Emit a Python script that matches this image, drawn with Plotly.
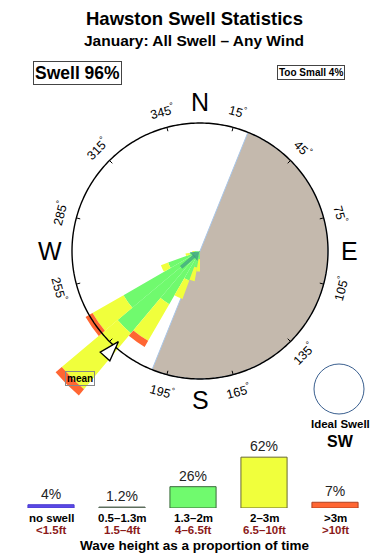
import math
import plotly.graph_objects as go

W, H = 390, 560
FONT = "Liberation Sans, Arial, Helvetica, sans-serif"

# ---------------- data ----------------
directions = [185, 195, 205, 215, 225, 235, 245, 255, 265]      # deg, bin centres
swell_05_13 = [0.1, 0.1, 0.2, 0.2, 0.2, 0.2, 0.1, 0.1, 0.1]       # 0.5-1.3 m
swell_13_2 = [1.2, 2.5, 4.7, 9.4, 16.6, 13.6, 5.2, 1.6, 0.8]      # 1.3-2 m
swell_2_3 = [1.9, 2.2, 3.1, 6.6, 11.4, 5.6, 1.2, 0.6, 0.3]        # 2-3 m
swell_gt3 = [0, 0, 0, 1.1, 1.25, 1.25, 0, 0, 0]                   # >3 m

land_from, land_to = 22, 202        # land sector (deg)
mean_dir = 222                       # mean swell direction
wind_dir = 229

tick_angles = [15, 45, 75, 105, 135, 165, 195, 225, 255, 285, 315, 345]
tick_labels_shown = [15, 45, 75, 105, 135, 165, 195, 255, 285, 315, 345]
compass = [("N", 0), ("E", 90), ("S", 180), ("W", 270)]

legend_labels = ["no swell", "0.5–1.3m", "1.3–2m", "2–3m", "&gt;3m"]
legend_ft = ["&lt;1.5ft", "1.5–4ft", "4–6.5ft", "6.5–10ft", "&gt;10ft"]
legend_pct = [4, 1.2, 26, 62, 7]

swell_pct = 96
too_small_pct = 4
ideal_swell = "SW"

# ---------------- geometry / styles ----------------
CX, CY = 200, 251
R_CIRCLE_PX = 128
R_DOM_PX = 190
CIRCLE_VAL = 20.0
PXU = R_CIRCLE_PX / CIRCLE_VAL

C_GREEN = "#70fa6e"
C_YELLOW = "#f0ff3c"
C_RED = "#ff6633"
C_SMALL = "#6b7b6b"
C_BLUE = "#5a4ae6"
C_LAND = "#c4b9ad"
C_DARKRED = "#8b1a1a"

LEG_X0, LEG_DX = 51, 71          # legend column centres (px)


def pol(b, rpx):
    a = math.radians(b)
    return CX + rpx * math.sin(a), CY - rpx * math.cos(a)


def ann(px, py, text, size, color="#000", angle=0, **kw):
    d = dict(x=px / W, y=1 - py / H, xref="paper", yref="paper", text=text,
             showarrow=False, font=dict(size=size, color=color, family=FONT),
             textangle=angle, xanchor="center", yanchor="middle")
    d.update(kw)
    return d


fig = go.Figure()

# land
fig.add_trace(go.Barpolar(r=[CIRCLE_VAL], theta=[(land_from + land_to) / 2],
                          width=[land_to - land_from], marker_color=C_LAND,
                          marker_line=dict(color="#a9c6e8", width=1),
                          hoverinfo="skip"))
# swell bars
for vals, col in [(swell_05_13, C_SMALL), (swell_13_2, C_GREEN),
                  (swell_2_3, C_YELLOW), (swell_gt3, C_RED)]:
    fig.add_trace(go.Barpolar(r=vals, theta=directions, width=[10] * len(directions),
                              marker_color=col, marker_line_width=0,
                              hoverinfo="skip"))

# compass circle
th = list(range(0, 361, 1))
fig.add_trace(go.Scatterpolar(r=[CIRCLE_VAL] * len(th), theta=th, mode="lines",
                              line=dict(color="black", width=1.4), hoverinfo="skip"))
# tick marks
tr, tt = [], []
for a in tick_angles:
    tr += [CIRCLE_VAL, CIRCLE_VAL - 4 / PXU, None]
    tt += [a, a, None]
fig.add_trace(go.Scatterpolar(r=tr, theta=tt, mode="lines",
                              line=dict(color="black", width=1), hoverinfo="skip"))

# wind arrow near centre
fig.add_trace(go.Scatterpolar(r=[25 / PXU, 7 / PXU], theta=[wind_dir, wind_dir], mode="lines",
                              line=dict(color="rgba(60,160,130,0.75)", width=3.5),
                              hoverinfo="skip"))
fig.add_trace(go.Scatterpolar(r=[6 / PXU], theta=[wind_dir], mode="markers",
                              marker=dict(symbol="triangle-up", size=10, angle=wind_dir - 180,
                                          color="rgba(60,160,130,0.8)", line_width=0),
                              hoverinfo="skip"))
# mean direction arrow
fig.add_trace(go.Scatterpolar(r=[122 / PXU], theta=[mean_dir], mode="markers",
                              marker=dict(symbol="arrow", size=21, angle=mean_dir - 180,
                                          color="white", line=dict(color="black", width=1.3)),
                              hoverinfo="skip"))

# legend bar chart
leg_colors = [C_BLUE, C_SMALL, C_GREEN, C_YELLOW, C_RED]
leg_lines = ["#4a3ad0", "#5a6a5a", "#3a6a3a", "#6a6a30", "#b04020"]
fig.add_trace(go.Bar(x=list(range(5)), y=legend_pct, width=0.65,
                     marker=dict(color=leg_colors, line=dict(color=leg_lines, width=1)),
                     text=[f"{v:g}%" for v in legend_pct], textposition="outside",
                     textfont=dict(size=14, color="#222", family=FONT),
                     cliponaxis=False, xaxis="x", yaxis="y", hoverinfo="skip"))

annotations = [
    ann(194, 18.5, "<b>Hawston Swell Statistics</b>", 18.5),
    ann(194, 40.5, "<b>January: All Swell – Any Wind</b>", 15.5),
    ann(77.5, 73.5, f"<b>Swell {swell_pct}%</b>", 17.5, bordercolor="#444",
        borderwidth=1, borderpad=1),
    ann(311, 73, f"<b>Too Small {too_small_pct}%</b>", 10, bordercolor="#444",
        borderwidth=1, borderpad=1),
    ann(340, 424, "<b>Ideal Swell</b>", 11.5),
    ann(340, 441, f"<b>{ideal_swell}</b>", 16),
    ann(195, 545, "<b>Wave height as a proportion of time</b>", 13.5),
]
for i, (lab, ft) in enumerate(zip(legend_labels, legend_ft)):
    xc = LEG_X0 + i * LEG_DX
    annotations.append(ann(xc, 517.5, f"<b>{lab}</b>", 11.5))
    annotations.append(ann(xc, 529.5, f"<b>{ft}</b>", 11.5, color=C_DARKRED))
for name, b in compass:
    x, y = pol(b, 150 if name == "W" else 149)
    annotations.append(ann(x, y, name, 25))
for a in tick_labels_shown:
    x, y = pol(a, 145)
    ang = a if a < 90 else (a - 180 if a < 270 else a - 360)
    annotations.append(ann(x, y, f"{a}<sup>°</sup>", 12.5, angle=ang))
mx, my = pol(223.4, 175)
annotations.append(ann(mx, my, "<b>mean</b>", 10, bordercolor="#888", borderwidth=1,
                       borderpad=1))

shapes = [dict(type="circle", xref="paper", yref="paper",
               x0=(339 - 25) / W, x1=(339 + 25) / W,
               y0=1 - (389 + 25) / H, y1=1 - (389 - 25) / H,
               line=dict(color="#3a5f8f", width=1))]

fig.update_layout(
    width=W, height=H, margin=dict(l=0, r=0, t=0, b=0),
    paper_bgcolor="white", plot_bgcolor="white", showlegend=False,
    font=dict(family=FONT),
    polar=dict(domain=dict(x=[(CX - R_DOM_PX) / W, (CX + R_DOM_PX) / W],
                           y=[1 - (CY + R_DOM_PX) / H, 1 - (CY - R_DOM_PX) / H]),
               bgcolor="rgba(0,0,0,0)", barmode="stack",
               radialaxis=dict(visible=False, range=[0, R_DOM_PX / PXU]),
               angularaxis=dict(visible=False, direction="clockwise", rotation=90)),
    xaxis=dict(domain=[(LEG_X0 - LEG_DX / 2) / W, (LEG_X0 + 4.5 * LEG_DX) / W],
               range=[-0.5, 4.5], showticklabels=False, showgrid=False, zeroline=False,
               showline=False, ticks="", fixedrange=True),
    yaxis=dict(domain=[1 - 508 / H, 1 - 448 / H], range=[0, 60 / 0.82], visible=False,
               fixedrange=True),
    annotations=annotations, shapes=shapes,
)

fig.write_html("out.html")
